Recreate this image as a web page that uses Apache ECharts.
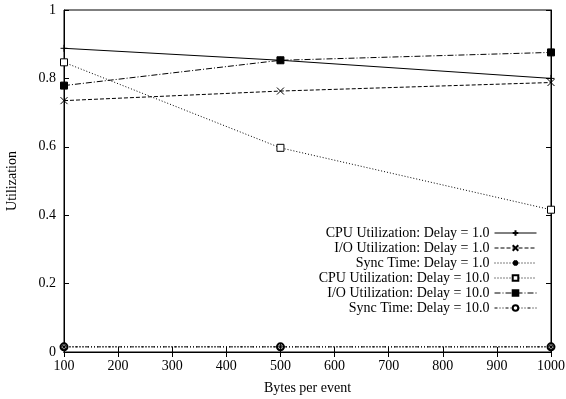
<!DOCTYPE html>
<html>
<head>
<meta charset="utf-8">
<script src="https://cdn.jsdelivr.net/npm/echarts@6/dist/echarts.min.js"></script>
<style>
  html, body { margin: 0; padding: 0; background: #fff; }
  #chart { width: 566px; height: 399px; }
</style>
</head>
<body>
<div id="chart"></div>
<script>
var bytesPerEvent = [100, 500, 1000];
var seriesNames = [
  "CPU Utilization: Delay = 1.0",
  "I/O Utilization: Delay = 1.0",
  "Sync Time: Delay = 1.0",
  "CPU Utilization: Delay = 10.0",
  "I/O Utilization: Delay = 10.0",
  "Sync Time: Delay = 10.0"
];
var cpuDelay1 = [0.888, 0.853, 0.800];
var ioDelay1 = [0.735, 0.763, 0.788];
var syncDelay1 = [0.015, 0.015, 0.015];
var cpuDelay10 = [0.847, 0.597, 0.416];
var ioDelay10 = [0.779, 0.853, 0.876];
var syncDelay10 = [0.015, 0.015, 0.015];

var font = "Liberation Serif";

function pairs(vals) {
  return bytesPerEvent.map(function (x, i) { return [x, vals[i]]; });
}

function makeSeries(name, vals, dash, symbol, fill, z) {
  return {
    name: name,
    type: "line",
    data: pairs(vals),
    symbol: symbol,
    symbolSize: 7,
    showSymbol: true,
    z: z,
    lineStyle: { color: "#000", width: 1, type: dash },
    itemStyle: { color: fill, borderColor: "#000", borderWidth: 1 }
  };
}

var chart = echarts.init(document.getElementById("chart"));
var option = {
  animation: false,
  backgroundColor: "#fff",
  textStyle: { fontFamily: font },
  grid: {
    left: 64, top: 10, right: 15, bottom: 47,
    outerBoundsMode: "none",
    containLabel: false,
    show: true, borderColor: "#000", borderWidth: 1, backgroundColor: "transparent"
  },
  legend: {
    orient: "vertical",
    align: "right",
    right: 24,
    top: 221,
    itemWidth: 42,
    itemHeight: 7,
    itemGap: 1,
    data: seriesNames,
    lineStyle: { width: 1 },
    textStyle: { fontFamily: font, fontSize: 14, color: "#000" }
  },
  xAxis: [
    {
      type: "value",
      min: 100, max: 1000, interval: 100,
      name: "Bytes per event",
      nameLocation: "middle",
      nameGap: 29,
      nameTextStyle: { fontFamily: font, fontSize: 14, color: "#000" },
      axisLine: { show: true, lineStyle: { color: "#000", width: 1 } },
      axisTick: { show: true, inside: true, length: 5, lineStyle: { color: "#000" } },
      axisLabel: { fontFamily: font, fontSize: 14, color: "#000", margin: 7,
        formatter: function (v) { return String(v); } },
      splitLine: { show: false }
    },
    {
      type: "value",
      position: "top",
      min: 100, max: 1000, interval: 100,
      axisLine: { show: true, lineStyle: { color: "#000", width: 1 } },
      axisTick: { show: true, inside: true, length: 5, lineStyle: { color: "#000" } },
      axisLabel: { show: false },
      splitLine: { show: false }
    }
  ],
  yAxis: [
    {
      type: "value",
      min: 0, max: 1, interval: 0.2,
      name: "Utilization",
      nameLocation: "middle",
      nameGap: 45,
      nameTextStyle: { fontFamily: font, fontSize: 14, color: "#000" },
      axisLine: { show: true, lineStyle: { color: "#000", width: 1 } },
      axisTick: { show: true, inside: true, length: 5, lineStyle: { color: "#000" } },
      axisLabel: { fontFamily: font, fontSize: 14, color: "#000", margin: 8 },
      splitLine: { show: false }
    },
    {
      type: "value",
      position: "right",
      min: 0, max: 1, interval: 0.2,
      axisLine: { show: true, lineStyle: { color: "#000", width: 1 } },
      axisTick: { show: true, inside: true, length: 5, lineStyle: { color: "#000" } },
      axisLabel: { show: false },
      splitLine: { show: false }
    }
  ],
  series: [
    makeSeries(seriesNames[0], cpuDelay1, "solid", "path://M5,0V10M0,5H10", "#000", 6),
    makeSeries(seriesNames[1], ioDelay1, [4, 2], "path://M0,0L10,10M10,0L0,10", "#000", 5),
    makeSeries(seriesNames[2], syncDelay1, [1, 2], "path://M5,0V10M0,5H10M1.5,1.5L8.5,8.5M8.5,1.5L1.5,8.5", "#000", 4),
    makeSeries(seriesNames[3], cpuDelay10, [1, 2], "rect", "#fff", 3),
    makeSeries(seriesNames[4], ioDelay10, [6, 2, 1, 2], "rect", "#000", 2),
    makeSeries(seriesNames[5], syncDelay10, [3, 2, 1, 2, 1, 2], "emptyCircle", "#000", 1)
  ]
};
chart.setOption(option);
</script>
</body>
</html>
